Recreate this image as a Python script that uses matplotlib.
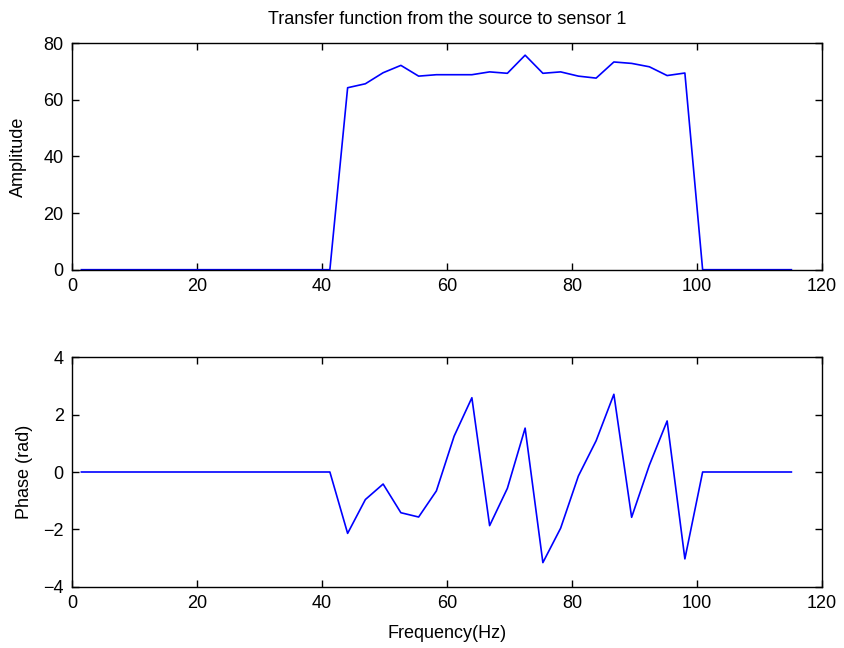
import numpy as np
import matplotlib
matplotlib.use("Agg")
import matplotlib.pyplot as plt

plt.rcParams['font.family'] = ['Liberation Sans', 'DejaVu Sans']

# Frequency bins (Hz)
freq = [1.5, 4.34, 7.18, 10.02, 12.86, 15.7, 18.54, 21.38, 24.22, 27.06,
        29.9, 32.74, 35.58, 38.42, 41.26, 44.1, 46.94, 49.78, 52.62, 55.46,
        58.3, 61.14, 63.98, 66.82, 69.66, 72.5, 75.34, 78.18, 81.02, 83.86,
        86.7, 89.54, 92.38, 95.22, 98.06, 100.9, 103.74, 106.58, 109.42,
        112.26, 115.1]

amplitude = [0, 0, 0, 0, 0, 0, 0, 0, 0, 0, 0, 0, 0, 0, 0,
             64.3, 65.7, 69.6, 72.2, 68.4, 68.9, 68.9, 68.9, 69.9, 69.4,
             75.8, 69.4, 69.9, 68.4, 67.7, 73.4, 72.9, 71.7, 68.6, 69.5,
             0, 0, 0, 0, 0, 0]

phase = [0, 0, 0, 0, 0, 0, 0, 0, 0, 0, 0, 0, 0, 0, 0,
         -2.14, -0.96, -0.42, -1.42, -1.57, -0.66, 1.25, 2.59, -1.87, -0.57,
         1.53, -3.16, -1.96, -0.14, 1.09, 2.71, -1.58, 0.24, 1.78, -3.03,
         0, 0, 0, 0, 0, 0]

xticks = [0, 20, 40, 60, 80, 100, 120]
amp_yticks = [0, 20, 40, 60, 80]
ph_yticks = [-4, -2, 0, 2, 4]

fig = plt.figure(figsize=(8.44, 6.48), dpi=100)
W, H = 844, 648
ax1 = fig.add_axes([72 / W, 1 - 269.7 / H, 750 / W, 226.4 / H])
ax2 = fig.add_axes([72 / W, 1 - 586.7 / H, 750 / W, 229.4 / H])

fs = 13
for ax in (ax1, ax2):
    ax.tick_params(direction='in', length=5, width=1.0, top=True, right=True,
                   labelsize=fs, pad=6, colors='black')
    for s in ax.spines.values():
        s.set_linewidth(1.0)
        s.set_color('black')
    ax.set_xlim(0, 120)
    ax.set_xticks(xticks)

ax1.plot(freq, amplitude, color='#0000ff', lw=1.2)
ax1.set_ylim(0, 80)
ax1.set_yticks(amp_yticks)
ax1.set_ylabel('Amplitude', fontsize=fs)
ax1.yaxis.set_label_coords((27.3 - 72) / 750, 0.5)
ax1.set_title('Transfer function from the source to sensor 1', fontsize=fs, pad=14)

ax2.plot(freq, phase, color='#0000ff', lw=1.2)
ax2.set_ylim(-4, 4)
ax2.set_yticks(ph_yticks)
ax2.set_ylabel('Phase (rad)', fontsize=fs)
ax2.yaxis.set_label_coords((33.3 - 72) / 750, 0.5)
ax2.set_xlabel('Frequency(Hz)', fontsize=fs, labelpad=9)

fig.savefig('out.png', dpi=100)
